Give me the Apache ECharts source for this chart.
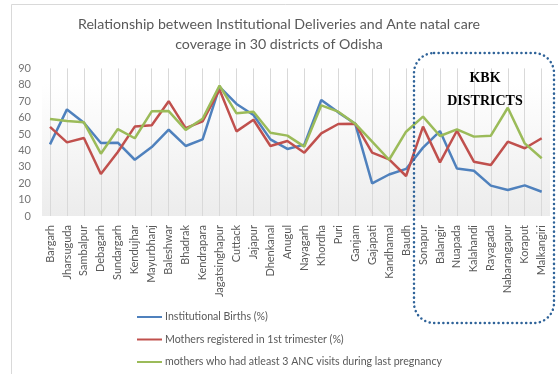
<!DOCTYPE html>
<html><head><meta charset="utf-8">
<script src="https://cdn.jsdelivr.net/npm/echarts@6/dist/echarts.min.js"></script>
<style>html,body{margin:0;padding:0;background:#fff}#c{width:558px;height:374px}</style>
</head><body><div id="c"></div>
<script>
const districts = ["Bargarh","Jharsuguda","Sambalpur","Debagarh","Sundargarh","Kendujhar","Mayurbhanj","Baleshwar","Bhadrak","Kendrapara","Jagatsinghapur","Cuttack","Jajapur","Dhenkanal","Anugul","Nayagarh","Khordha","Puri","Ganjam","Gajapati","Kandhamal","Baudh","Sonapur","Balangir","Nuapada","Kalahandi","Rayagada","Nabarangapur","Koraput","Malkangiri"];
const institutionalBirths = [43.7,65,56.9,44.5,44.7,34.3,42,52.6,42.7,46.7,78.8,68.3,61.6,46.7,40.9,43.5,70.7,63.2,56.3,19.9,25.3,28.7,41.7,51.8,29,27.6,18.5,15.9,18.7,14.8];
const firstTrimester = [54.3,44.9,47.6,25.6,39,54.5,55.3,70,53.6,57.7,77,51.6,58.7,42.7,45.7,38.6,50.4,56.1,56.3,38.6,34.5,24.4,54.5,32.7,52,33.1,31.1,45.3,41.3,47.4];
const ancVisits = [59.1,57.9,57.1,38,53,47.4,63.8,64,52.5,59.3,79.5,62.6,63.6,50.8,49,42.3,67.5,63.6,56.3,45.3,34.3,51.4,60.6,48.8,52.8,48.4,49,66,44.3,35.2];
const seriesNames = ["Institutional Births (%)","Mothers registered in 1st trimester (%)","mothers who had atleast 3 ANC visits during last pregnancy"];
const yTicks = [0,10,20,30,40,50,60,70,80,90];
const titleLines = ["Relationship between Institutional Deliveries and Ante natal care","coverage in 30 districts of Odisha"];
const boxLabel = ["KBK","DISTRICTS"];

const chart = echarts.init(document.getElementById('c'), null, {renderer:'canvas'});
const FONT = 'Lato';
chart.setOption({
  animation:false,
  backgroundColor:'#fff',
  color:['#4F81BD','#C0504D','#9BBB59'],
  title:{
    text: titleLines.join('\n'),
    left:'center', top:9,
    textStyle:{fontFamily:FONT, fontSize:14.2, fontWeight:'normal', color:'#595959', lineHeight:20}
  },
  legend:{
    orient:'vertical', left:137, top:311, itemGap:10.5, padding:0, height:80, width:400,
    itemWidth:25, itemHeight:2, icon:'rect',
    textStyle:{fontFamily:FONT, fontSize:10.6, color:'#595959', lineHeight:12, padding:[0,0,0,-2]},
    data: seriesNames
  },
  grid:{left:50, right:16.3, top:68.4, bottom:158, containLabel:false},
  xAxis:{
    type:'category', data:districts, boundaryGap:false,
    axisLine:{show:false}, axisTick:{show:false},
    splitLine:{show:true, lineStyle:{color:'#d9d9d9', width:1}},
    axisLabel:{rotate:90, margin:9, fontFamily:FONT, fontSize:11, color:'#595959', interval:0}
  },
  yAxis:{
    type:'value', min:yTicks[0], max:yTicks[yTicks.length-1], interval:10,
    axisLine:{show:false}, axisTick:{show:false}, splitLine:{show:false},
    axisLabel:{margin:19, fontFamily:FONT, fontSize:11, color:'#767676'}
  },
  series:[
    {name:seriesNames[0], type:'line', data:institutionalBirths, symbol:'none', lineStyle:{width:2.5}, z:3},
    {name:seriesNames[1], type:'line', data:firstTrimester, symbol:'none', lineStyle:{width:2.5}, z:4},
    {name:seriesNames[2], type:'line', data:ancVisits, symbol:'none', lineStyle:{width:2.5}, z:5}
  ],
  graphic:[
    {type:'rect', z:-20, silent:true, shape:{x:42, y:83, width:508, height:133},
     style:{fill:new echarts.graphic.LinearGradient(0,0,0,1,[{offset:0,color:'#ffffff'},{offset:1,color:'#ececec'}])}},
    {type:'rect', z:-10, silent:true, shape:{x:11.5, y:4.5, width:600, height:400},
     style:{fill:null, stroke:'#d9d9d9', lineWidth:1}},
    {type:'rect', z:50, silent:true, shape:{x:414, y:53, width:140, height:270, r:20},
     style:{fill:null, stroke:'#2F6399', lineWidth:2.5, lineDash:[0.1,4.5], lineCap:'round'}},
    {type:'text', z:51, silent:true, style:{x:485, y:78, text:boxLabel[0], align:'center', verticalAlign:'middle',
      font:'bold 14px "Liberation Serif"', fill:'#000'}},
    {type:'text', z:51, silent:true, style:{x:485, y:101, text:boxLabel[1], align:'center', verticalAlign:'middle',
      font:'bold 14px "Liberation Serif"', fill:'#000'}}
  ]
});
</script></body></html>
